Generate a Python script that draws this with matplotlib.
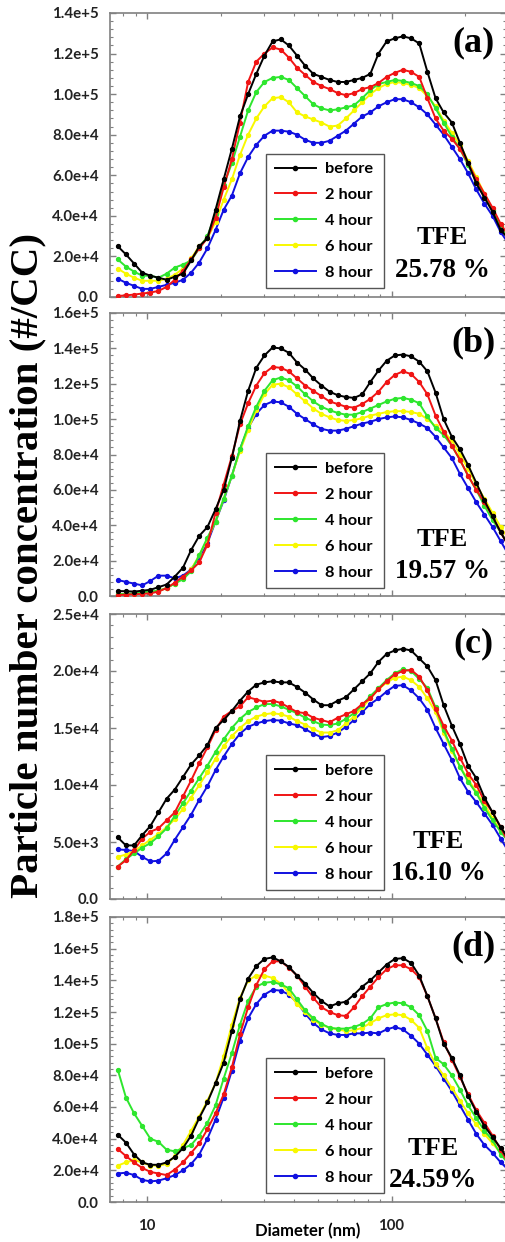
import math
import matplotlib
matplotlib.use("Agg")
import matplotlib.pyplot as plt
from matplotlib.ticker import FuncFormatter, LogLocator, MultipleLocator, NullFormatter, FixedLocator

# ---------------- data ----------------
diameter_nm = [7.586, 8.191, 8.845, 9.550, 10.31, 11.13, 12.02, 12.98, 14.02, 15.14,
               16.34, 17.65, 19.05, 20.57, 22.22, 23.99, 25.90, 27.97, 30.20, 32.61,
               35.21, 38.02, 41.05, 44.33, 47.86, 51.68, 55.80, 60.26, 65.06, 70.25,
               75.86, 81.91, 88.45, 95.50, 103.1, 111.3, 120.2, 129.8, 140.2, 151.4,
               163.4, 176.5, 190.5, 205.7, 222.2, 239.9, 259.0, 279.7, 302.0]

series_labels = ["before", "2 hour", "4 hour", "6 hour", "8 hour"]

# panel (a), units of 1e4 #/cc
a_before = [2.5, 2.1, 1.65, 1.2, 1.05, 0.95, 0.85, 1.0, 1.15, 1.8, 2.5, 2.9, 4.3, 5.8, 7.3, 8.9, 10.0, 11.0, 11.9, 12.6,
            12.7, 12.4, 11.9, 11.4, 11.0, 10.85, 10.7, 10.6, 10.6, 10.7, 10.8, 11.0, 12.0, 12.6, 12.75, 12.85, 12.75, 12.5, 11.1, 9.8,
            9.1, 8.6, 7.6, 6.6, 5.6, 4.9, 4.2, 3.3, 2.85]
a_2h = [0.05, 0.08, 0.12, 0.17, 0.22, 0.3, 0.5, 0.85, 1.3, 1.85, 2.4, 2.9, 3.9, 5.4, 6.8, 8.6, 10.6, 11.6, 12.0, 12.3,
        12.2, 11.8, 11.3, 10.95, 10.6, 10.4, 10.25, 10.05, 9.95, 10.05, 10.25, 10.35, 10.55, 10.85, 11.05, 11.2, 11.1, 10.85, 9.8, 8.8,
        8.2, 7.8, 7.3, 6.6, 5.8, 5.1, 4.4, 3.6, 3.0]
a_4h = [1.85, 1.5, 1.25, 1.05, 1.05, 0.95, 1.15, 1.45, 1.6, 1.8, 2.4, 3.0, 4.1, 5.5, 6.6, 7.9, 9.2, 10.1, 10.6, 10.8,
        10.85, 10.7, 10.3, 9.9, 9.5, 9.3, 9.2, 9.25, 9.35, 9.45, 9.8, 10.2, 10.5, 10.6, 10.7, 10.65, 10.55, 10.4, 10.0, 9.3,
        8.6, 7.9, 7.3, 6.5, 5.7, 5.0, 4.3, 3.5, 2.9]
a_6h = [1.4, 1.15, 0.95, 0.8, 0.8, 0.8, 0.9, 1.1, 1.4, 1.9, 2.5, 2.9, 3.7, 4.8, 5.8, 7.0, 8.0, 8.8, 9.4, 9.8,
        9.85, 9.6, 9.1, 8.9, 8.75, 8.6, 8.4, 8.45, 8.8, 9.2, 9.6, 10.0, 10.3, 10.5, 10.6, 10.55, 10.45, 10.3, 9.9, 9.4,
        8.7, 8.1, 7.5, 6.7, 5.9, 5.1, 4.3, 3.5, 2.9]
a_8h = [0.9, 0.7, 0.55, 0.4, 0.4, 0.5, 0.6, 0.7, 0.85, 1.2, 1.7, 2.4, 3.3, 4.3, 5.0, 6.1, 6.9, 7.5, 7.95, 8.2,
        8.2, 8.15, 8.0, 7.75, 7.6, 7.6, 7.7, 7.95, 8.2, 8.55, 8.9, 9.1, 9.4, 9.6, 9.75, 9.75, 9.6, 9.35, 9.0, 8.5,
        8.0, 7.4, 6.8, 6.1, 5.3, 4.6, 4.0, 3.2, 2.6]

# panel (b), units of 1e4 #/cc
b_before = [0.28, 0.27, 0.25, 0.3, 0.35, 0.5, 0.65, 1.1, 1.6, 2.6, 3.4, 3.9, 4.9, 6.0, 7.8, 9.9, 11.6, 12.9, 13.6, 14.05,
            14.0, 13.75, 13.2, 12.8, 12.3, 11.9, 11.55, 11.35, 11.25, 11.2, 11.4, 12.1, 12.75, 13.3, 13.6, 13.65, 13.55, 13.25, 12.7, 11.5,
            10.0, 9.0, 8.3, 7.4, 6.4, 5.4, 4.5, 3.6, 2.8]
b_2h = [0.05, 0.08, 0.1, 0.12, 0.15, 0.25, 0.45, 0.75, 1.1, 1.45, 1.9, 2.9, 4.7, 6.3, 7.9, 9.7, 10.9, 11.9, 12.6, 12.95,
        12.9, 12.7, 12.3, 11.9, 11.6, 11.3, 11.0, 10.85, 10.7, 10.65, 10.85, 11.15, 11.55, 12.1, 12.5, 12.7, 12.55, 12.1, 11.4, 10.2,
        9.3, 8.5, 7.7, 6.8, 6.0, 5.3, 4.5, 3.6, 2.8]
b_4h = [0.1, 0.12, 0.15, 0.2, 0.25, 0.3, 0.45, 0.7, 0.95, 1.4, 2.3, 3.3, 4.2, 5.5, 6.8, 8.3, 9.6, 10.7, 11.6, 12.2,
        12.35, 12.2, 11.85, 11.4, 11.0, 10.7, 10.5, 10.35, 10.25, 10.25, 10.4, 10.6, 10.8, 11.0, 11.15, 11.2, 11.1, 10.9, 10.15, 9.5,
        9.1, 8.5, 7.7, 6.8, 6.0, 5.1, 4.3, 3.6, 2.9]
b_6h = [0.1, 0.1, 0.12, 0.15, 0.2, 0.3, 0.45, 0.7, 1.0, 1.5, 2.3, 3.2, 4.2, 5.5, 6.8, 8.2, 9.4, 10.5, 11.4, 11.95,
        12.0, 11.8, 11.4, 11.0, 10.6, 10.3, 10.1, 9.95, 9.9, 9.95, 10.05, 10.2, 10.3, 10.4, 10.45, 10.45, 10.4, 10.3, 10.0, 9.6,
        9.3, 8.8, 8.0, 7.2, 6.3, 5.5, 4.7, 3.9, 3.2]
b_8h = [0.9, 0.8, 0.7, 0.6, 0.85, 1.15, 1.15, 1.0, 1.15, 1.5, 2.2, 3.0, 4.2, 5.4, 6.8, 8.3, 9.5, 10.3, 10.8, 11.0,
        10.95, 10.7, 10.3, 10.0, 9.7, 9.45, 9.35, 9.35, 9.45, 9.6, 9.75, 9.85, 10.0, 10.1, 10.15, 10.1, 9.95, 9.75, 9.5, 9.0,
        8.4, 7.8, 6.9, 6.1, 5.3, 4.6, 3.9, 3.1, 2.3]

# panel (c), units of 1e3 #/cc
c_before = [5.4, 4.7, 4.7, 5.6, 6.4, 7.6, 8.8, 9.6, 10.7, 11.8, 12.6, 13.5, 15.0, 15.7, 16.5, 17.4, 18.2, 18.8, 19.0, 19.1,
            19.0, 19.0, 18.6, 18.1, 17.5, 17.0, 17.0, 17.4, 17.7, 18.4, 19.1, 19.8, 20.8, 21.5, 21.8, 21.95, 21.8, 21.1, 20.4, 19.2,
            17.0, 15.2, 13.6, 11.7, 10.6, 8.9, 7.6, 6.3, 5.3]
c_2h = [2.85, 3.4, 4.3, 5.3, 5.9, 6.2, 6.9, 7.6, 9.0, 10.4, 11.9, 13.3, 14.8, 16.0, 16.5, 16.9, 17.7, 17.5, 17.3, 17.4,
        17.2, 16.8, 16.4, 16.3, 15.9, 15.7, 15.5, 15.9, 16.2, 16.5, 17.1, 17.6, 18.4, 19.1, 19.7, 20.0, 20.1, 19.5, 18.3, 16.7,
        15.2, 13.9, 12.4, 11.0, 10.0, 8.6, 7.6, 6.3, 4.9]
c_4h = [2.85, 3.5, 4.0, 4.5, 4.9, 5.5, 6.2, 7.3, 8.4, 9.5, 10.6, 11.7, 12.9, 14.0, 15.0, 15.8, 16.4, 16.8, 17.1, 17.1,
        16.9, 16.6, 16.3, 15.9, 15.6, 15.3, 15.25, 15.4, 15.8, 16.3, 17.0, 17.8, 18.5, 19.2, 19.8, 20.15, 20.0, 19.3, 18.5, 16.8,
        14.8, 13.2, 11.6, 10.3, 9.3, 8.0, 6.9, 5.9, 5.0]
c_6h = [3.7, 3.9, 4.2, 4.7, 5.2, 5.7, 6.3, 7.0, 7.9, 8.9, 10.0, 11.1, 12.3, 13.4, 14.3, 15.0, 15.6, 16.0, 16.2, 16.3,
        16.2, 16.0, 15.6, 15.3, 14.9, 14.6, 14.6, 14.8, 15.4, 16.0, 16.8, 17.6, 18.4, 19.0, 19.4, 19.5, 19.2, 18.6, 17.6, 16.4,
        14.6, 13.0, 11.6, 10.5, 9.4, 8.3, 7.1, 6.0, 5.0]
c_8h = [4.35, 4.3, 4.2, 3.7, 3.3, 3.35, 4.0, 5.2, 6.3, 7.4, 8.7, 9.9, 11.3, 12.5, 13.6, 14.5, 15.1, 15.4, 15.6, 15.7,
        15.65, 15.4, 15.25, 14.9, 14.5, 14.2, 14.3, 14.6, 15.1, 15.7, 16.4, 17.1, 17.6, 18.2, 18.7, 18.75, 18.3, 17.6, 16.6, 15.0,
        13.6, 12.2, 10.6, 9.4, 8.5, 7.5, 6.5, 5.3, 4.1]

# panel (d), units of 1e4 #/cc
d_before = [4.25, 3.75, 3.0, 2.5, 2.35, 2.35, 2.5, 2.85, 3.4, 4.2, 5.3, 6.3, 7.5, 8.8, 10.8, 12.8, 14.1, 14.9, 15.35, 15.45,
            15.2, 14.85, 14.3, 13.8, 13.2, 12.7, 12.35, 12.55, 12.65, 13.1, 13.6, 14.0, 14.5, 15.0, 15.35, 15.4, 15.1, 14.3, 13.0, 11.6,
            10.0, 9.1, 8.0, 6.7, 5.7, 4.8, 4.1, 3.4, 2.6]
d_2h = [3.35, 2.9, 2.5, 2.15, 1.9, 1.8, 1.7, 2.05, 2.5, 3.1, 3.7, 4.6, 5.6, 6.8, 8.5, 10.6, 12.3, 13.7, 14.7, 15.2,
        15.2, 14.8, 14.3, 13.6, 12.9, 12.3, 12.0, 11.8, 11.75, 12.3, 13.0, 13.6, 14.2, 14.7, 14.95, 14.95, 14.7, 14.2, 13.0, 11.6,
        10.1, 9.0, 7.9, 6.8, 5.8, 5.0, 4.2, 3.3, 2.4]
d_4h = [8.35, 6.6, 5.6, 4.8, 4.0, 3.8, 3.3, 3.2, 3.4, 3.6, 4.2, 5.0, 6.1, 7.8, 9.4, 11.2, 12.7, 13.6, 13.85, 13.9,
        13.75, 13.5, 12.8, 12.1, 11.6, 11.25, 11.0, 10.95, 10.95, 11.05, 11.25, 11.6, 12.3, 12.5, 12.6, 12.55, 12.3, 11.8, 10.8, 9.1,
        8.7, 8.0, 7.1, 6.1, 5.3, 4.5, 3.9, 3.0, 2.4]
d_6h = [2.3, 2.5, 2.65, 2.5, 2.3, 2.3, 2.4, 2.9, 3.6, 4.5, 5.4, 6.4, 7.5, 9.2, 11.2, 12.9, 14.0, 14.3, 14.3, 14.15,
        13.8, 13.2, 12.5, 12.0, 11.5, 11.2, 11.0, 10.9, 10.8, 10.85, 11.0, 11.3, 11.6, 11.8, 11.85, 11.8, 11.5, 11.0, 9.7, 8.7,
        8.0, 7.2, 6.4, 5.6, 4.9, 4.3, 3.7, 3.1, 2.5]
d_8h = [1.8, 1.85, 1.7, 1.4, 1.3, 1.35, 1.5, 1.7, 2.0, 2.4, 3.0, 4.0, 5.2, 6.6, 8.3, 10.2, 11.6, 12.5, 13.1, 13.4,
        13.35, 13.1, 12.6, 11.9, 11.3, 10.9, 10.65, 10.55, 10.55, 10.65, 10.65, 10.7, 10.65, 10.9, 11.05, 10.9, 10.5, 10.0, 9.3, 8.6,
        7.8, 7.0, 6.1, 5.2, 4.3, 3.6, 3.1, 2.5, 2.0]

panel_letters = ["(a)", "(b)", "(c)", "(d)"]
tfe_values = ["25.78 %", "19.57 %", "16.10 %", "24.59%"]
y_scales = [1e4, 1e4, 1e3, 1e4]
y_max = [1.4e5, 1.6e5, 2.5e4, 1.8e5]
y_major = [2e4, 2e4, 5e3, 2e4]
panels = [[a_before, a_2h, a_4h, a_6h, a_8h],
          [b_before, b_2h, b_4h, b_6h, b_8h],
          [c_before, c_2h, c_4h, c_6h, c_8h],
          [d_before, d_2h, d_4h, d_6h, d_8h]]

colors = ["#000000", "#f01414", "#2ee62e", "#f8f800", "#1010e0"]

# ---------------- figure ----------------
W, H = 505, 1242
fig = plt.figure(figsize=(W / 100, H / 100), dpi=100)

SERIF = "Liberation Serif"
SANS = "Lato"

# axes pixel boxes: (top, bottom)
boxes = [(13, 297), (313, 596), (614, 899), (917, 1202)]
left_px, right_px = 110, 506


def sci_fmt(v, pos):
    if v == 0:
        return "0.0"
    e = int(math.floor(math.log10(abs(v)) + 1e-9))
    m = v / 10 ** e
    return f"{m:.1f}e+{e}"


for i, (top, bot) in enumerate(boxes):
    ax = fig.add_axes([left_px / W, 1 - bot / H, (right_px - left_px) / W, (bot - top) / H])
    ax.set_xscale("log")
    ax.set_xlim(7.05, 294)
    ax.set_ylim(0, y_max[i])
    zs = [6, 5, 4, 3, 2]
    for j, vals in enumerate(panels[i]):
        ax.plot(diameter_nm, [v * y_scales[i] for v in vals], color=colors[j], lw=1.4,
                marker="o", ms=2.8, mec=colors[j], mfc=colors[j], label=series_labels[j],
                zorder=zs[j])
    ax.yaxis.set_major_locator(MultipleLocator(y_major[i]))
    ax.yaxis.set_minor_locator(MultipleLocator(y_major[i] / 5))
    ax.yaxis.set_major_formatter(FuncFormatter(sci_fmt))
    ax.xaxis.set_major_locator(FixedLocator([10, 100]))
    ax.xaxis.set_minor_locator(LogLocator(base=10, subs=range(2, 10)))
    ax.xaxis.set_minor_formatter(NullFormatter())
    ax.xaxis.set_major_formatter(FuncFormatter(lambda v, p: f"{int(round(v))}"))
    for s in ax.spines.values():
        s.set_color("#808080")
        s.set_linewidth(1.2)
    ax.tick_params(which="both", direction="in", top=True, right=True, colors="#808080",
                   labelcolor="#222222")
    ax.tick_params(which="major", length=4, width=1)
    ax.tick_params(which="minor", length=2.5, width=0.8)
    ax.tick_params(axis="y", pad=8)
    for lab in ax.get_yticklabels():
        lab.set_fontfamily(SANS)
        lab.set_fontweight("bold")
        lab.set_fontsize(10.8)
    if i < 3:
        ax.tick_params(axis="x", labelbottom=False)
    else:
        ax.tick_params(axis="x", pad=12)
        for lab in ax.get_xticklabels():
            lab.set_fontfamily(SANS)
            lab.set_fontweight("bold")
            lab.set_fontsize(10.8)

    ax.text(0.918, 0.895, panel_letters[i], transform=ax.transAxes, ha="center", va="center",
            fontfamily=SERIF, fontweight="bold", fontsize=26)
    tx = [0.84, 0.84, 0.828, 0.815][i]
    ty1 = [0.211, 0.198, 0.201, 0.186][i]
    ty2 = [0.095, 0.086, 0.088, 0.075][i]
    ax.text(tx, ty1, "TFE", transform=ax.transAxes, ha="center", va="center",
            fontfamily=SERIF, fontweight="bold", fontsize=19)
    ax.text(tx, ty2, tfe_values[i], transform=ax.transAxes, ha="center", va="center",
            fontfamily=SERIF, fontweight="bold", fontsize=19.5)

    leg = ax.legend(loc="upper left", bbox_to_anchor=(0.395, 0.505, 0.297, 0.0), mode="expand",
                    borderaxespad=0, numpoints=1, fancybox=False, framealpha=1,
                    edgecolor="#555555", handlelength=2.5, handletextpad=0.6,
                    labelspacing=0.7, borderpad=0.5,
                    prop={"family": SANS, "weight": "bold", "size": 11.8})
    leg.get_frame().set_linewidth(1.0)
    for h in leg.legend_handles:
        h.set_markersize(3)

    if i == 3:
        ax.set_xlabel("Diameter (nm)", fontfamily=SANS, fontweight="bold", fontsize=12,
                      labelpad=-7)

fig.text(28 / W, 1 - 566 / H, "Particle number concentration (#/CC)", rotation=90,
         ha="center", va="center", fontfamily=SERIF, fontweight="bold", fontsize=29.5)

fig.savefig("out.png", dpi=100)
